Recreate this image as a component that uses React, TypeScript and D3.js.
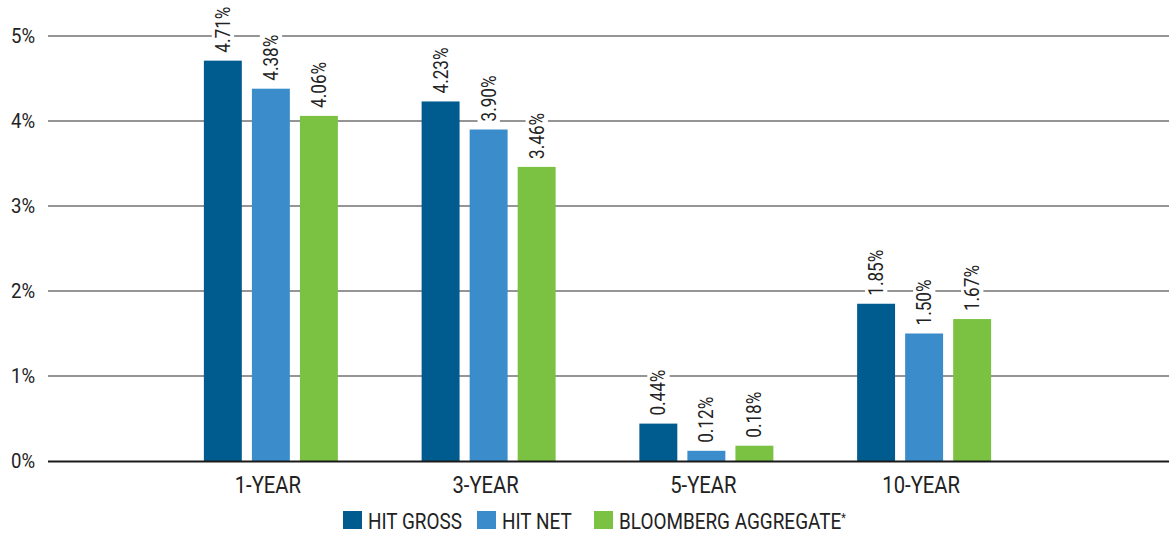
import { useEffect, useRef } from 'react'
import * as d3 from 'd3'

const categories = ['1-YEAR', '3-YEAR', '5-YEAR', '10-YEAR']
const seriesNames = ['HIT GROSS', 'HIT NET', 'BLOOMBERG AGGREGATE']
const seriesColors = ['#005b8f', '#3a8ccb', '#7cc242']
const hitGross = [4.71, 4.23, 0.44, 1.85]
const hitNet = [4.38, 3.9, 0.12, 1.5]
const bloomberg = [4.06, 3.46, 0.18, 1.67]
const yTicks = [0, 1, 2, 3, 4, 5]

const W = 1169
const H = 533
const FONT = 'Roboto, "Noto Sans", sans-serif'
// squeeze text a little to get closer to the condensed face of the original
const SQ = 0.88

export default function App() {
    const svgRef = useRef<SVGSVGElement>(null)

    useEffect(() => {
        if (!svgRef.current) return
        const svg = d3.select(svgRef.current)
        svg.selectAll('*').remove()

        const series = [hitGross, hitNet, bloomberg]

        const y = d3.scaleLinear().domain([0, 5]).range([461, 36])
        const x0 = d3.scaleBand().domain(categories).range([162, 1033]).padding(0)
        const x1 = d3.scaleBand<number>()
            .domain([0, 1, 2])
            .range([0, 134])
            .paddingInner(0.21)

        // gridlines
        svg.append('g')
            .selectAll('line')
            .data(yTicks.filter(t => t > 0))
            .enter()
            .append('line')
            .attr('x1', 48)
            .attr('x2', W)
            .attr('y1', d => y(d))
            .attr('y2', d => y(d))
            .attr('stroke', '#727272')
            .attr('stroke-width', 1.5)

        // tick labels
        svg.append('g')
            .selectAll('text')
            .data(yTicks)
            .enter()
            .append('text')
            .attr('transform', d => `translate(35, ${y(d) + 7}) scale(0.93, 1)`)
            .attr('text-anchor', 'end')
            .style('font-family', FONT)
            .style('font-size', '20px')
            .style('fill', '#222')
            .text(d => `${d}%`)

        // bars
        const groups = svg.append('g')
            .selectAll('g')
            .data(categories)
            .enter()
            .append('g')
            .attr('transform', d => `translate(${x0(d)! + (x0.bandwidth() - 134) / 2}, 0)`)

        groups.selectAll('rect')
            .data((_, ci) => series.map((s, si) => ({ si, v: s[ci] })))
            .enter()
            .append('rect')
            .attr('x', d => x1(d.si)!)
            .attr('width', x1.bandwidth())
            .attr('y', d => y(d.v))
            .attr('height', d => y(0) - y(d.v))
            .attr('fill', d => seriesColors[d.si])

        // value labels with white background
        const labels = groups.selectAll('g.lbl')
            .data((_, ci) => series.map((s, si) => ({ si, v: s[ci] })))
            .enter()
            .append('g')
            .attr('class', 'lbl')
            .attr('transform', d =>
                `translate(${x1(d.si)! + x1.bandwidth() / 2 + 7}, ${y(d.v) - 8}) rotate(-90)`)

        labels.each(function (d) {
            const g = d3.select(this)
            const t = g.append('text')
                .attr('transform', `scale(${SQ}, 1)`)
                .style('font-family', FONT)
                .style('font-size', '19.5px')
                .style('fill', '#222')
                .text(`${d.v.toFixed(2)}%`)
            const bb = (t.node() as SVGTextElement).getBBox()
            g.insert('rect', 'text')
                .attr('x', bb.x * SQ - 4)
                .attr('y', bb.y)
                .attr('width', bb.width * SQ + 8)
                .attr('height', bb.height)
                .attr('fill', 'white')
        })

        // zero axis
        svg.append('line')
            .attr('x1', 48)
            .attr('x2', W)
            .attr('y1', y(0) + 0.5)
            .attr('y2', y(0) + 0.5)
            .attr('stroke', '#1a1a1a')
            .attr('stroke-width', 2)

        // category labels
        svg.append('g')
            .selectAll('text')
            .data(categories)
            .enter()
            .append('text')
            .attr('transform', d =>
                `translate(${x0(d)! + x0.bandwidth() / 2 - 3}, 493) scale(${SQ}, 1)`)
            .attr('text-anchor', 'middle')
            .style('font-family', FONT)
            .style('font-size', '23px')
            .style('fill', '#222')
            .text(d => d)

        // legend
        const legendX = [343, 477, 594]
        const legend = svg.append('g')
            .selectAll('g')
            .data(seriesNames)
            .enter()
            .append('g')
            .attr('transform', (_, i) => `translate(${legendX[i]}, 511)`)

        legend.append('rect')
            .attr('width', 19)
            .attr('height', 18)
            .attr('fill', (_, i) => seriesColors[i])

        const lt = legend.append('text')
            .attr('transform', `translate(25, 18) scale(${SQ}, 1)`)
            .style('font-family', FONT)
            .style('font-size', '21.5px')
            .style('fill', '#222')
            .text(d => d)

        // superscript asterisk on the index name
        lt.filter((_, i) => i === 2)
            .append('tspan')
            .attr('dy', -7)
            .style('font-size', '12px')
            .text('*')
    }, [])

    return (
        <svg
            ref={svgRef}
            width={W}
            height={H}
            style={{ position: 'absolute', left: 0, top: 0, background: 'white' }}
        />
    )
}
